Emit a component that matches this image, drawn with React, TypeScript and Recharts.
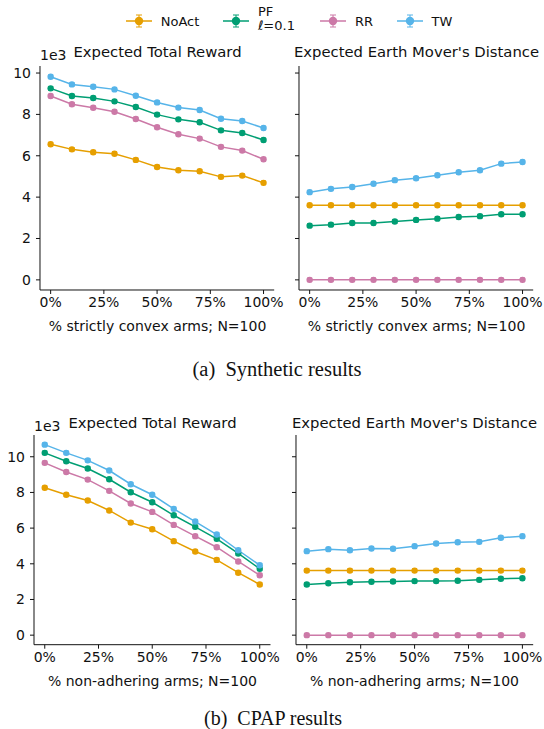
import React from 'react';
import { LineChart, Line, XAxis, YAxis } from 'recharts';

const FONT = '"DejaVu Sans", sans-serif';

const methods = ['NoAct', 'PF', 'RR', 'TW'];
const colors: Record<string, string> = {
  NoAct: '#E69F00',
  PF: '#009E73',
  RR: '#CC79A7',
  TW: '#56B4E9',
};

// x positions (% of arms), values in units of 1e3
const pctArms = [0, 10, 20, 30, 40, 50, 60, 70, 80, 90, 100];
const xTicks = [0, 25, 50, 75, 100];
const yTicks = [0, 2, 4, 6, 8, 10];

// (a) synthetic
const synRewardNoAct = [6.56, 6.31, 6.17, 6.1, 5.8, 5.46, 5.3, 5.25, 4.98, 5.04, 4.69];
const synRewardPF = [9.26, 8.89, 8.79, 8.63, 8.36, 7.99, 7.76, 7.62, 7.23, 7.1, 6.76];
const synRewardRR = [8.89, 8.49, 8.32, 8.13, 7.78, 7.38, 7.04, 6.83, 6.43, 6.25, 5.83];
const synRewardTW = [9.82, 9.45, 9.34, 9.21, 8.9, 8.58, 8.33, 8.21, 7.79, 7.68, 7.34];

const synEmdNoAct = [3.61, 3.61, 3.61, 3.61, 3.61, 3.61, 3.61, 3.61, 3.61, 3.61, 3.61];
const synEmdPF = [2.62, 2.67, 2.75, 2.75, 2.82, 2.9, 2.96, 3.04, 3.08, 3.17, 3.17];
const synEmdRR = [0, 0, 0, 0, 0, 0, 0, 0, 0, 0, 0];
const synEmdTW = [4.24, 4.4, 4.49, 4.65, 4.82, 4.91, 5.06, 5.2, 5.3, 5.62, 5.7];

// (b) CPAP
const cpapRewardNoAct = [8.26, 7.87, 7.55, 6.99, 6.31, 5.94, 5.27, 4.69, 4.22, 3.5, 2.84];
const cpapRewardPF = [10.22, 9.75, 9.34, 8.74, 8.01, 7.45, 6.72, 6.07, 5.4, 4.58, 3.72];
const cpapRewardRR = [9.66, 9.15, 8.72, 8.09, 7.38, 6.91, 6.18, 5.55, 4.93, 4.13, 3.36];
const cpapRewardTW = [10.68, 10.22, 9.8, 9.23, 8.46, 7.87, 7.08, 6.37, 5.64, 4.76, 3.92];

const cpapEmdNoAct = [3.62, 3.62, 3.62, 3.62, 3.62, 3.62, 3.62, 3.62, 3.62, 3.62, 3.62];
const cpapEmdPF = [2.84, 2.91, 2.97, 2.99, 3.01, 3.03, 3.03, 3.05, 3.1, 3.16, 3.19];
const cpapEmdRR = [0, 0, 0, 0, 0, 0, 0, 0, 0, 0, 0];
const cpapEmdTW = [4.71, 4.82, 4.76, 4.86, 4.84, 4.99, 5.14, 5.21, 5.23, 5.46, 5.55];

function buildRows(noAct: number[], pf: number[], rr: number[], tw: number[]) {
  return pctArms.map((x, i) => ({ x, NoAct: noAct[i], PF: pf[i], RR: rr[i], TW: tw[i] }));
}

const synReward = buildRows(synRewardNoAct, synRewardPF, synRewardRR, synRewardTW);
const synEmd = buildRows(synEmdNoAct, synEmdPF, synEmdRR, synEmdTW);
const cpapReward = buildRows(cpapRewardNoAct, cpapRewardPF, cpapRewardRR, cpapRewardTW);
const cpapEmd = buildRows(cpapEmdNoAct, cpapEmdPF, cpapEmdRR, cpapEmdTW);

// marker with tiny error-bar caps
function Marker(props: any) {
  const { cx, cy, stroke } = props;
  if (cx == null || cy == null) return null;
  return (
    <g>
      <line x1={cx - 2.5} x2={cx + 2.5} y1={cy - 1.8} y2={cy - 1.8} stroke={stroke} strokeWidth={1} />
      <line x1={cx - 2.5} x2={cx + 2.5} y1={cy + 1.8} y2={cy + 1.8} stroke={stroke} strokeWidth={1} />
      <circle cx={cx} cy={cy} r={3.2} fill={stroke} stroke="none" />
    </g>
  );
}

function Txt({ x, y, size = 14, family = FONT, children }: any) {
  return (
    <div
      style={{
        position: 'absolute',
        left: x,
        top: y,
        transform: 'translate(-50%, -50%)',
        whiteSpace: 'nowrap',
        fontFamily: family,
        fontSize: size,
        lineHeight: 1,
        color: '#111',
      }}
    >
      {children}
    </div>
  );
}

interface PanelProps {
  data: any[];
  x0: number;
  x1: number;
  y0: number;
  y1: number;
  yDomain: [number, number];
  showYLabels: boolean;
}

function Panel({ data, x0, x1, y0, y1, yDomain, showYLabels }: PanelProps) {
  const w = x1 - x0 + 50;
  const h = y1 - y0 + 40;
  return (
    <div style={{ position: 'absolute', left: x0 - 40, top: y0 - 10 }}>
      <LineChart width={w} height={h} data={data} margin={{ top: 10, right: 10, bottom: 0, left: 10 }}>
        <XAxis
          dataKey="x"
          type="number"
          domain={[-5, 105]}
          ticks={xTicks}
          allowDataOverflow
          tickFormatter={(v) => `${v}%`}
          tick={{ fontSize: 14, fill: '#111', fontFamily: FONT }}
          tickSize={4}
          tickMargin={3}
          stroke="#111"
          height={30}
          interval={0}
        />
        <YAxis
          type="number"
          domain={yDomain}
          ticks={yTicks}
          allowDataOverflow
          tickFormatter={(v) => (showYLabels ? String(v) : '')}
          tick={{ fontSize: 14, fill: '#111', fontFamily: FONT }}
          tickSize={4}
          tickMargin={5}
          stroke="#111"
          width={30}
          interval={0}
        />
        {methods.map((m) => (
          <Line
            key={m}
            dataKey={m}
            type="linear"
            stroke={colors[m]}
            strokeWidth={1.5}
            dot={<Marker />}
            activeDot={false}
            isAnimationActive={false}
          />
        ))}
      </LineChart>
    </div>
  );
}

function LegendItem({ x, name }: { x: number; name: string }) {
  const c = colors[name];
  return (
    <svg style={{ position: 'absolute', left: x - 13, top: 13 }} width={26} height={16}>
      <line x1={0} x2={26} y1={8} y2={8} stroke={c} strokeWidth={1.5} />
      <line x1={13} x2={13} y1={2} y2={14} stroke={c} strokeWidth={1} />
      <line x1={10} x2={16} y1={2} y2={2} stroke={c} strokeWidth={1} />
      <line x1={10} x2={16} y1={14} y2={14} stroke={c} strokeWidth={1} />
      <circle cx={13} cy={8} r={4.2} fill={c} />
    </svg>
  );
}

export default function App() {
  return (
    <div style={{ position: 'absolute', left: 0, top: 0, width: 544, height: 729, background: '#fff' }}>
      {/* legend */}
      <LegendItem x={139} name="NoAct" />
      <Txt x={180} y={21} size={13}>NoAct</Txt>
      <LegendItem x={236} name="PF" />
      <div style={{ position: 'absolute', left: 258, top: 5, fontFamily: FONT, fontSize: 13, lineHeight: '14px', color: '#111' }}>
        PF
        <br />
        ℓ=0.1
      </div>
      <LegendItem x={333} name="RR" />
      <Txt x={364} y={21} size={13}>RR</Txt>
      <LegendItem x={410} name="TW" />
      <Txt x={442} y={21} size={13}>TW</Txt>

      {/* (a) synthetic */}
      <Txt x={157.5} y={52} size={14.8}>Expected Total Reward</Txt>
      <Txt x={416.5} y={52} size={14.8}>Expected Earth Mover's Distance</Txt>
      <div style={{ position: 'absolute', left: 40, top: 48, fontFamily: FONT, fontSize: 14, lineHeight: 1, color: '#111' }}>1e3</div>
      <Panel data={synReward} x0={40.4} x1={274.6} y0={66} y1={290} yDomain={[-0.49, 10.34]} showYLabels />
      <Panel data={synEmd} x0={299.4} x1={533.6} y0={66} y1={290} yDomain={[-0.49, 10.34]} showYLabels={false} />
      <Txt x={157.5} y={326}>% strictly convex arms; N=100</Txt>
      <Txt x={416.5} y={326}>% strictly convex arms; N=100</Txt>
      <Txt x={277} y={369} size={20.5} family='"Liberation Serif", serif'>(a)&nbsp; Synthetic results</Txt>

      {/* (b) CPAP */}
      <Txt x={152.5} y={423} size={14.8}>Expected Total Reward</Txt>
      <Txt x={414.5} y={423} size={14.8}>Expected Earth Mover's Distance</Txt>
      <div style={{ position: 'absolute', left: 34, top: 419, fontFamily: FONT, fontSize: 14, lineHeight: 1, color: '#111' }}>1e3</div>
      <Panel data={cpapReward} x0={34.25} x1={270.75} y0={435.3} y1={645} yDomain={[-0.534, 11.22]} showYLabels />
      <Panel data={cpapEmd} x0={295.9} x1={533.1} y0={435.3} y1={645} yDomain={[-0.534, 11.22]} showYLabels={false} />
      <Txt x={152.5} y={680.5}>% non-adhering arms; N=100</Txt>
      <Txt x={414.5} y={680.5}>% non-adhering arms; N=100</Txt>
      <Txt x={273} y={718} size={20} family='"Liberation Serif", serif'>(b)&nbsp; CPAP results</Txt>
    </div>
  );
}
